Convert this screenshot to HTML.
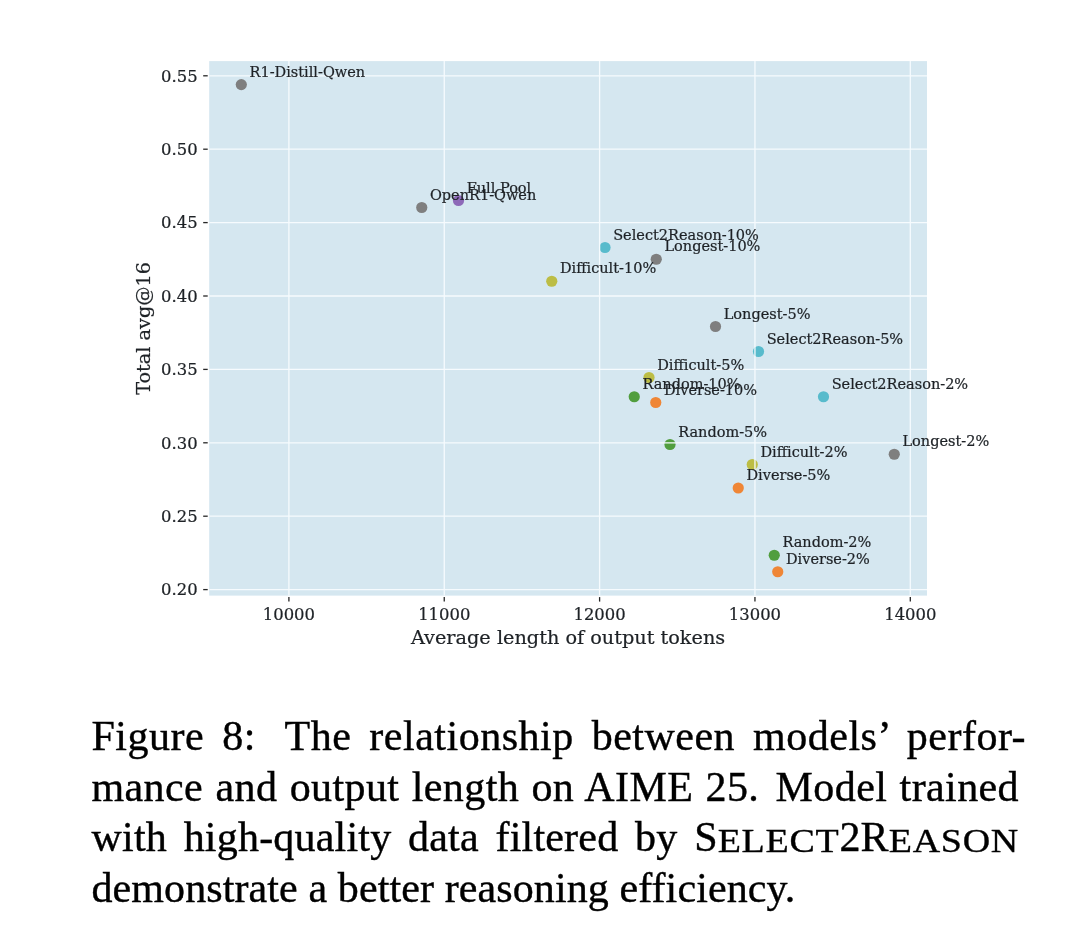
<!DOCTYPE html>
<html lang="en"><head><meta charset="utf-8"><title>Figure 8</title>
<style>
html,body{margin:0;padding:0;background:#fff;}
body{width:1080px;height:939px;position:relative;overflow:hidden;}
svg{position:absolute;left:0;top:0;}
svg text{font-family:"DejaVu Serif","Liberation Serif",serif;fill:#1e2226;stroke:#1e2226;stroke-width:0.22px;}
.cap{position:absolute;left:91.5px;top:-2.2px;-webkit-text-stroke:0.4px #000;width:926.5px;font-family:"Liberation Serif","Times New Roman",serif;font-size:42px;line-height:50px;color:#000;}
.cap .l{position:absolute;left:0;width:927.5px;height:50px;text-align:justify;text-align-last:justify;white-space:nowrap;}
.cap .l1{top:713.5px;width:934.5px;letter-spacing:0.5px}.cap .l2{top:764px;letter-spacing:0.4px}.cap .l3{top:814.5px;letter-spacing:0.2px}.cap .l4{top:864.8px;text-align-last:left;word-spacing:0px;letter-spacing:0.1px}
.sc{font-size:38px;letter-spacing:0.7px;display:inline-block;line-height:1;transform-origin:left bottom;transform:scaleY(.88)}
</style></head><body>
<svg width="1080" height="700" viewBox="0 0 1080 700">
<rect x="209.2" y="61.1" width="717.8" height="534.5" fill="#d5e7f0"/>
<g fill-opacity="1">
<circle cx="241.3" cy="84.6" r="5.6" fill="#7f7f7f"/>
<circle cx="421.75" cy="207.5" r="5.6" fill="#7f7f7f"/>
<circle cx="458.5" cy="200.5" r="5.6" fill="#8d69b8"/>
<circle cx="605" cy="247.5" r="5.6" fill="#58bbcc"/>
<circle cx="656.25" cy="259.25" r="5.6" fill="#7f7f7f"/>
<circle cx="551.75" cy="281.25" r="5.6" fill="#bcbd45"/>
<circle cx="715.5" cy="326.5" r="5.6" fill="#7f7f7f"/>
<circle cx="758.5" cy="351.5" r="5.6" fill="#58bbcc"/>
<circle cx="649" cy="377.5" r="5.6" fill="#bcbd45"/>
<circle cx="634.25" cy="396.75" r="5.6" fill="#519e3e"/>
<circle cx="655.75" cy="402.5" r="5.6" fill="#ef8636"/>
<circle cx="823.5" cy="396.75" r="5.6" fill="#58bbcc"/>
<circle cx="670" cy="444.5" r="5.6" fill="#519e3e"/>
<circle cx="752.25" cy="464.5" r="5.6" fill="#bcbd45"/>
<circle cx="894.25" cy="454.25" r="5.6" fill="#7f7f7f"/>
<circle cx="738.25" cy="488" r="5.6" fill="#ef8636"/>
<circle cx="774.25" cy="555.25" r="5.6" fill="#519e3e"/>
<circle cx="777.75" cy="571.75" r="5.6" fill="#ef8636"/>
</g>
<g stroke="#f6fbfe" stroke-width="1.3">
<line x1="288.90" y1="61.1" x2="288.90" y2="595.6"/>
<line x1="444.25" y1="61.1" x2="444.25" y2="595.6"/>
<line x1="599.60" y1="61.1" x2="599.60" y2="595.6"/>
<line x1="754.95" y1="61.1" x2="754.95" y2="595.6"/>
<line x1="910.30" y1="61.1" x2="910.30" y2="595.6"/>
<line x1="209.2" y1="589.60" x2="927.0" y2="589.60"/>
<line x1="209.2" y1="516.20" x2="927.0" y2="516.20"/>
<line x1="209.2" y1="442.80" x2="927.0" y2="442.80"/>
<line x1="209.2" y1="369.40" x2="927.0" y2="369.40"/>
<line x1="209.2" y1="296.00" x2="927.0" y2="296.00"/>
<line x1="209.2" y1="222.60" x2="927.0" y2="222.60"/>
<line x1="209.2" y1="149.20" x2="927.0" y2="149.20"/>
<line x1="209.2" y1="75.80" x2="927.0" y2="75.80"/>
</g>
<g stroke="#262626" stroke-width="1.3">
<line x1="288.90" y1="597.1" x2="288.90" y2="601.6"/>
<line x1="444.25" y1="597.1" x2="444.25" y2="601.6"/>
<line x1="599.60" y1="597.1" x2="599.60" y2="601.6"/>
<line x1="754.95" y1="597.1" x2="754.95" y2="601.6"/>
<line x1="910.30" y1="597.1" x2="910.30" y2="601.6"/>
<line x1="203.2" y1="589.60" x2="207.7" y2="589.60"/>
<line x1="203.2" y1="516.20" x2="207.7" y2="516.20"/>
<line x1="203.2" y1="442.80" x2="207.7" y2="442.80"/>
<line x1="203.2" y1="369.40" x2="207.7" y2="369.40"/>
<line x1="203.2" y1="296.00" x2="207.7" y2="296.00"/>
<line x1="203.2" y1="222.60" x2="207.7" y2="222.60"/>
<line x1="203.2" y1="149.20" x2="207.7" y2="149.20"/>
<line x1="203.2" y1="75.80" x2="207.7" y2="75.80"/>
</g>
<g font-size="16.4" text-anchor="middle">
<text x="288.90" y="619.6">10000</text>
<text x="444.25" y="619.6">11000</text>
<text x="599.60" y="619.6">12000</text>
<text x="754.95" y="619.6">13000</text>
<text x="910.30" y="619.6">14000</text>
</g>
<g font-size="16.4" text-anchor="end">
<text x="197.6" y="595.30">0.20</text>
<text x="197.6" y="521.90">0.25</text>
<text x="197.6" y="448.50">0.30</text>
<text x="197.6" y="375.10">0.35</text>
<text x="197.6" y="301.70">0.40</text>
<text x="197.6" y="228.30">0.45</text>
<text x="197.6" y="154.90">0.50</text>
<text x="197.6" y="81.50">0.55</text>
</g>
<text font-size="19.25" text-anchor="middle" x="568.1" y="644">Average length of output tokens</text>
<text font-size="19.25" text-anchor="middle" transform="translate(150,328.4) rotate(-90)">Total avg@16</text>
<g font-size="14.5">
<text x="249.5" y="76.8">R1-Distill-Qwen</text>
<text x="429.95" y="199.7">OpenR1-Qwen</text>
<text x="466.7" y="192.7">Full Pool</text>
<text x="613.2" y="239.7">Select2Reason-10%</text>
<text x="664.45" y="251.45">Longest-10%</text>
<text x="559.95" y="273.45">Difficult-10%</text>
<text x="723.7" y="318.7">Longest-5%</text>
<text x="766.7" y="343.7">Select2Reason-5%</text>
<text x="657.2" y="369.7">Difficult-5%</text>
<text x="642.45" y="388.95">Random-10%</text>
<text x="663.95" y="394.7">Diverse-10%</text>
<text x="831.7" y="388.95">Select2Reason-2%</text>
<text x="678.2" y="436.7">Random-5%</text>
<text x="760.45" y="456.7">Difficult-2%</text>
<text x="902.45" y="446.45">Longest-2%</text>
<text x="746.45" y="480.2">Diverse-5%</text>
<text x="782.45" y="547.45">Random-2%</text>
<text x="785.95" y="563.95">Diverse-2%</text>
</g>
</svg>
<div class="cap"><div class="l l1"><span>Figure</span> <span>8:</span><span class="gap" style="display:inline-block;width:11.5px"></span> <span>The</span> <span>relationship</span> <span>between</span> <span>models’</span> <span>perfor-</span></div><div class="l l2"><span>mance</span> <span>and</span> <span>output</span> <span>length</span> <span>on</span> <span>AIME</span> <span>25.</span><span class="gap" style="display:inline-block;width:4px"></span> <span>Model</span> <span>trained</span></div><div class="l l3"><span>with</span> <span>high-quality</span> <span>data</span> <span>filtered</span> <span>by</span> <span>S<span class="sc">ELECT</span>2R<span class="sc">EASON</span></span></div><div class="l l4"><span>demonstrate</span> <span>a</span> <span>better</span> <span>reasoning</span> <span>efficiency.</span></div></div>
</body></html>
